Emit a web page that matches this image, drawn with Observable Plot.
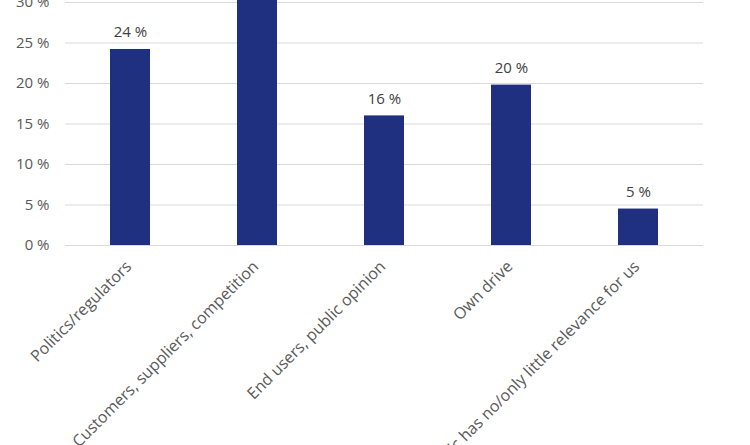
<!DOCTYPE html>
<html><head><meta charset="utf-8">
<script src="https://cdn.jsdelivr.net/npm/d3@7"></script>
<script src="https://cdn.jsdelivr.net/npm/@observablehq/plot@0.6"></script>
<style>
html,body{margin:0;padding:0;background:#fff;overflow:hidden}
</style>
</head><body><div id="chart"></div>
<script>
const categories = ["Politics/regulators", "Customers, suppliers, competition", "End users, public opinion", "Own drive", "Topic has no/only little relevance for us"];
const values = [24.2, 35.0, 16.0, 19.8, 4.5];
const valueLabels = ["24 %", "35 %", "16 %", "20 %", "5 %"];
const yTicks = [0, 5, 10, 15, 20, 25, 30];

const data = categories.map((c, i) => ({cat: c, v: values[i], label: valueLabels[i]}));

const chart = Plot.plot({
  width: 750,
  height: 445,
  marginTop: 2,
  marginBottom: 200,
  marginLeft: 65,
  marginRight: 47,
  style: {fontFamily: "'Open Sans', sans-serif", fontSize: "15px", background: "#fff"},
  x: {domain: categories, paddingInner: 0.686, paddingOuter: 0.343, axis: null},
  y: {domain: [0, 30], ticks: yTicks, tickFormat: d => d + " %", tickSize: 0, tickPadding: 16, label: null},
  marks: [
    Plot.gridY(yTicks, {stroke: "#d9d9d9", strokeOpacity: 1, strokeWidth: 1}),
    Plot.axisY(yTicks, {tickSize: 0, tickPadding: 16, tickFormat: d => d + " %", label: null, fill: "#595959", fontSize: 15}),
    Plot.barY(data, {x: "cat", y: "v", fill: "#1f3080"}),
    Plot.text(data, {x: "cat", y: "v", text: "label", dy: -17, fill: "#404040", fontSize: 15}),
    Plot.text(data, {x: "cat", frameAnchor: "bottom", text: "cat", rotate: -45, textAnchor: "end", dy: 22, dx: 2, fill: "#595959", fontSize: 16})
  ]
});
document.getElementById("chart").appendChild(chart);
</script>
</body></html>
